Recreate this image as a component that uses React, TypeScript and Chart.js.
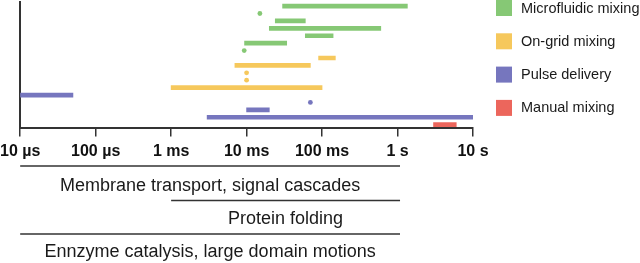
import { useEffect, useRef } from 'react';
import { Chart, registerables } from 'chart.js';

Chart.register(...registerables);

// Row identifiers (top to bottom)
const rows = [
  'r0', 'r1', 'r2', 'r3', 'r4', 'r5', 'r6', 'r7', 'r8',
  'r9', 'r10', 'r11', 'r12', 'r13', 'r14', 'r15', 'r16',
];

// Time axis ticks (seconds) and labels
const tickValues = [1e-5, 1e-4, 1e-3, 1e-2, 1e-1, 1, 10];
const tickLabels = ['10 µs', '100 µs', '1 ms', '10 ms', '100 ms', '1 s', '10 s'];

// Series: ranges [row, start s, end s], single points [row, time s]
const microfluidicRanges: [string, number, number][] = [
  ['r0', 0.03, 1.35],
  ['r2', 0.024, 0.06],
  ['r3', 0.02, 0.6],
  ['r4', 0.06, 0.14],
  ['r5', 0.0094, 0.034],
];
const microfluidicPoints: [string, number][] = [
  ['r1', 0.015],
  ['r6', 0.0093],
];
const onGridRanges: [string, number, number][] = [
  ['r7', 0.09, 0.15],
  ['r8', 0.007, 0.07],
  ['r11', 0.001, 0.1],
];
const onGridPoints: [string, number][] = [
  ['r9', 0.01],
  ['r10', 0.01],
];
const pulseRanges: [string, number, number][] = [
  ['r12', 1e-5, 5e-5],
  ['r14', 0.01, 0.02],
  ['r15', 0.003, 10],
];
const pulsePoints: [string, number][] = [['r13', 0.07]];
const manualRanges: [string, number, number][] = [['r16', 3, 6]];

const seriesNames = ['Microfluidic mixing', 'On-grid mixing', 'Pulse delivery', 'Manual mixing'];
const seriesColors = ['#86c875', '#f6c85c', '#7676be', '#ec665c'];

// Biological processes timescale ranges [label, start s, end s]
const processLabels = [
  'Membrane transport, signal cascades',
  'Protein folding',
  'Ennzyme catalysis, large domain motions',
];
const processStarts = [1e-5, 1e-3, 1e-5];
const processEnds = [1, 1, 1];

const FONT = '"Liberation Sans", Arial, Helvetica, sans-serif';

function rangeData(ranges: [string, number, number][]) {
  return rows.map((r) => {
    const f = ranges.find((d) => d[0] === r);
    return f ? [f[1], f[2]] : null;
  });
}

function pointData(points: [string, number][]) {
  return points.map((p) => ({ x: p[1], y: p[0] }));
}

const overlayPlugin = {
  id: 'overlay',
  afterDraw(chart: any) {
    const ctx = chart.ctx as CanvasRenderingContext2D;
    const xs = chart.scales.x;
    ctx.save();
    // legend
    ctx.font = `14.5px ${FONT}`;
    ctx.textBaseline = 'middle';
    ctx.textAlign = 'left';
    seriesNames.forEach((name, i) => {
      const cy = 8 + i * 33.3;
      ctx.fillStyle = seriesColors[i];
      ctx.fillRect(496, cy - 8, 16, 16);
      ctx.fillStyle = '#1a1a1a';
      ctx.fillText(name, 521, cy + 0.5);
    });
    // process annotations
    const lineYs = [166, 200.5, 234];
    const textYs = [186.5, 219, 252.5];
    ctx.font = `18px ${FONT}`;
    ctx.textAlign = 'center';
    processLabels.forEach((label, i) => {
      const x0 = xs.getPixelForValue(processStarts[i]);
      const x1 = xs.getPixelForValue(processEnds[i]) + 2.5;
      ctx.strokeStyle = '#333';
      ctx.lineWidth = 1.4;
      ctx.beginPath();
      ctx.moveTo(x0, lineYs[i]);
      ctx.lineTo(x1, lineYs[i]);
      ctx.stroke();
      ctx.fillStyle = '#1a1a1a';
      ctx.fillText(label, (x0 + x1) / 2, textYs[i]);
    });
    ctx.restore();
  },
};

export default function App() {
  const ref = useRef<HTMLCanvasElement | null>(null);

  useEffect(() => {
    document.body.style.margin = '0';
    if (!ref.current) return;
    const barCommon = {
      type: 'bar' as const,
      grouped: false,
      barThickness: 4,
      borderWidth: 0,
      borderSkipped: false,
    };
    const pointCommon = {
      type: 'line' as const,
      showLine: false,
      pointRadius: 2.4,
      pointBorderWidth: 0,
      pointHoverRadius: 2.4,
      xAxisID: 'x',
      yAxisID: 'y',
    };
    const chart = new Chart(ref.current, {
      type: 'bar',
      data: {
        labels: rows,
        datasets: [
          { ...barCommon, label: seriesNames[0], data: rangeData(microfluidicRanges) as any, backgroundColor: seriesColors[0] },
          { ...barCommon, label: seriesNames[1], data: rangeData(onGridRanges) as any, backgroundColor: seriesColors[1] },
          { ...barCommon, label: seriesNames[2], data: rangeData(pulseRanges) as any, backgroundColor: seriesColors[2] },
          { ...barCommon, label: seriesNames[3], data: rangeData(manualRanges) as any, backgroundColor: seriesColors[3] },
          { ...pointCommon, label: seriesNames[0] + ' (single)', data: pointData(microfluidicPoints) as any, pointBackgroundColor: seriesColors[0], backgroundColor: seriesColors[0] },
          { ...pointCommon, label: seriesNames[1] + ' (single)', data: pointData(onGridPoints) as any, pointBackgroundColor: seriesColors[1], backgroundColor: seriesColors[1] },
          { ...pointCommon, label: seriesNames[2] + ' (single)', data: pointData(pulsePoints) as any, pointBackgroundColor: seriesColors[2], backgroundColor: seriesColors[2] },
        ] as any,
      },
      options: {
        indexAxis: 'y',
        animation: false,
        responsive: false,
        maintainAspectRatio: false,
        layout: { padding: { left: 20, right: 167, top: 2.3, bottom: 97 } },
        plugins: { legend: { display: false }, tooltip: { enabled: false } },
        scales: {
          x: {
            type: 'logarithmic',
            position: 'bottom',
            min: 1e-5,
            max: 10,
            afterBuildTicks: (scale: any) => {
              scale.ticks = tickValues.map((v) => ({ value: v }));
            },
            ticks: {
              autoSkip: false,
              maxRotation: 0,
              padding: 0,
              color: '#111',
              font: { family: FONT, size: 16, weight: 'bold', lineHeight: 1.85 },
              callback: (_v: any, i: number) => tickLabels[i],
            },
            grid: {
              display: true,
              drawOnChartArea: false,
              drawTicks: true,
              tickLength: 8,
              color: '#333',
              lineWidth: 1.5,
            },
            border: { display: true, color: '#333', width: 2 },
          },
          y: {
            type: 'category',
            position: 'left',
            offset: true,
            ticks: { display: false },
            grid: { display: false, drawTicks: false },
            border: { display: true, color: '#333', width: 2 },
          },
        },
      } as any,
      plugins: [overlayPlugin],
    });
    return () => chart.destroy();
  }, []);

  return (
    <canvas
      ref={ref}
      width={640}
      height={263}
      style={{ display: 'block', width: '640px', height: '263px' }}
    />
  );
}
